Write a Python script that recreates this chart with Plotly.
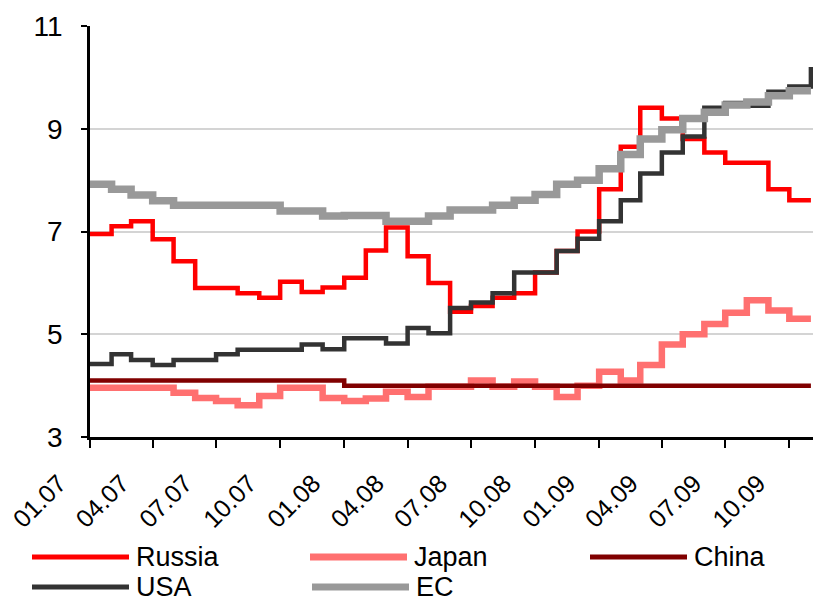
import plotly.graph_objects as go
import pandas as pd

# Monthly observations, Jan 2007 .. Nov 2009
months = pd.date_range("2007-01-01", "2009-11-01", freq="MS")

russia = [6.95, 7.10, 7.20, 6.85, 6.42, 5.90, 5.90, 5.80, 5.71, 6.02, 5.82, 5.91,
          6.10, 6.63, 7.08, 6.52, 6.00, 5.44, 5.55, 5.71, 5.80, 6.20, 6.62, 7.00,
          7.82, 8.65, 9.41, 9.20, 8.80, 8.54, 8.34, 8.34, 7.82, 7.61, 7.61]
japan = [3.96, 3.96, 3.96, 3.96, 3.86, 3.76, 3.70, 3.62, 3.80, 3.96, 3.96, 3.76,
         3.70, 3.75, 3.88, 3.78, 3.98, 3.98, 4.10, 3.98, 4.08, 3.98, 3.78, 4.00,
         4.27, 4.10, 4.40, 4.80, 5.00, 5.20, 5.42, 5.66, 5.46, 5.30, 5.30]
china = [4.10] * 12 + [4.00] * 23
usa = [4.42, 4.61, 4.50, 4.40, 4.50, 4.50, 4.61, 4.70, 4.70, 4.70, 4.80, 4.71,
       4.92, 4.92, 4.82, 5.12, 5.02, 5.51, 5.62, 5.80, 6.20, 6.20, 6.62, 6.86,
       7.20, 7.61, 8.13, 8.54, 8.85, 9.41, 9.50, 9.45, 9.72, 9.82, 10.20]
ec = [7.92, 7.82, 7.71, 7.60, 7.51, 7.51, 7.51, 7.51, 7.51, 7.40, 7.40, 7.30,
      7.31, 7.31, 7.20, 7.20, 7.30, 7.42, 7.42, 7.51, 7.61, 7.72, 7.92, 8.00,
      8.22, 8.50, 8.80, 8.98, 9.20, 9.32, 9.46, 9.52, 9.64, 9.74, 9.74]

names = ["Russia", "Japan", "China", "USA", "EC"]
values = [russia, japan, china, usa, ec]
colors = ["#FF0000", "#FF7070", "#800000", "#333333", "#999999"]
widths = [4.5, 6.5, 4.5, 4.5, 7.5]

y_ticks = [3, 5, 7, 9, 11]

FONT = "Liberation Sans, Arial, sans-serif"
W, H = 814, 603
ML, MR, MT, MB = 90, 1, 26, 166
PW, PH = W - ML - MR, H - MT - MB

fig = go.Figure()
for n, v, c, w in zip(names, values, colors, widths):
    fig.add_trace(go.Scatter(x=months, y=v, name=n, mode="lines",
                             line=dict(color=c, width=w, shape="hv"),
                             showlegend=False))

def px(x):
    return (x - ML) / PW

def py(y):
    return (H - MB - y) / PH

# custom legend (long line samples like the original)
legend_pos = [(32, 557), (310, 557), (590, 557), (32, 587), (312, 587)]
shapes = []
annotations = []
for (lx, ly), n, c, w in zip(legend_pos, names, colors, widths):
    shapes.append(dict(type="line", xref="paper", yref="paper",
                       x0=px(lx), x1=px(lx + 97), y0=py(ly), y1=py(ly),
                       line=dict(color=c, width=min(w + 0.5, 7))))
    annotations.append(dict(text=n, xref="paper", yref="paper",
                            x=px(lx + 102), y=py(ly), xanchor="left",
                            yanchor="middle", showarrow=False,
                            font=dict(size=27, color="black", family=FONT)))

fig.update_layout(
    width=W, height=H,
    margin=dict(l=ML, r=MR, t=MT, b=MB),
    paper_bgcolor="white", plot_bgcolor="white",
    font=dict(family=FONT, size=24, color="black"),
    shapes=shapes, annotations=annotations,
    showlegend=False,
)
fig.update_xaxes(type="date", range=["2007-01-01", "2009-11-04"],
                 tick0="2007-01-01", dtick="M3", tickformat="%m.%y",
                 tickangle=-45, ticks="outside", ticklen=8, tickwidth=2,
                 tickcolor="black", showline=True, linewidth=2.5,
                 linecolor="black", showgrid=False, zeroline=False,
                 ticklabelshift=-31, ticklabelstandoff=11,
                 tickfont=dict(size=25, family=FONT))
fig.update_yaxes(range=[3, 11], tickvals=y_ticks, ticks="outside",
                 ticklen=6, tickwidth=2, tickcolor="black", showline=True,
                 linewidth=2.5, linecolor="black", showgrid=True,
                 gridcolor="#D4D4D4", gridwidth=1.5, zeroline=False,
                 ticklabelstandoff=13,
                 tickfont=dict(size=28, family=FONT))

fig.write_html("out.html", config={"displayModeBar": False},
               post_script="document.body.style.margin='0';"
                           "document.body.style.overflow='hidden';")
